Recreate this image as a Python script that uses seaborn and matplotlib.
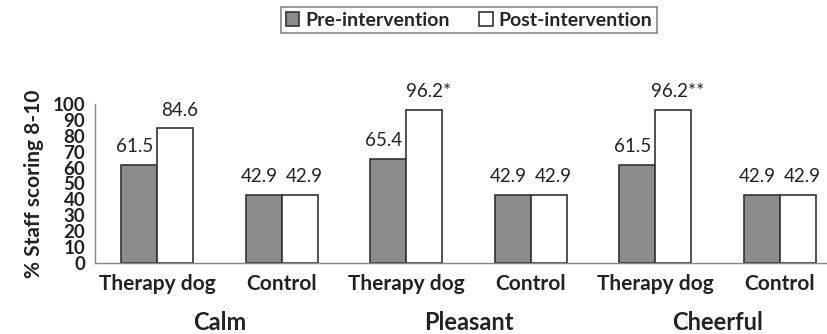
import numpy as np
import pandas as pd
import seaborn as sns
import matplotlib.pyplot as plt

# ----------------------------
# dati
# ----------------------------
moods = ["Calm", "Pleasant", "Cheerful"]
groups = ["Therapy dog", "Control"]
phases = ["Pre-intervention", "Post-intervention"]
pre_values = [61.5, 42.9, 65.4, 42.9, 61.5, 42.9]
post_values = [84.6, 42.9, 96.2, 42.9, 96.2, 42.9]
post_labels = ["84.6", "42.9", "96.2*", "42.9", "96.2**", "42.9"]

keys = [f"{m}|{g}" for m in moods for g in groups]
df = pd.DataFrame({
    "key": keys * 2,
    "phase": [phases[0]] * 6 + [phases[1]] * 6,
    "value": pre_values + post_values,
})

sns.set_theme(style="white")
plt.rcParams["font.family"] = ["Lato", "DejaVu Sans"]

fig = plt.figure(figsize=(8.28, 3.34), dpi=100)
ax = fig.add_axes([95 / 828, 71 / 334, 747 / 828, 159 / 334])

sns.barplot(
    data=df, x="key", y="value", hue="phase", order=keys, hue_order=phases,
    palette=["#8c8c8c", "#ffffff"], width=0.58, edgecolor="#333333",
    linewidth=1.2, ax=ax, legend=True,
)

# etichette valori sopra le barre (leggermente allargate come in Excel)
label_sets = [[f"{v}" for v in pre_values], post_labels]
for cont, labels, dx in zip(ax.containers, label_sets, [-3, 3]):
    for bar, lab in zip(cont, labels):
        ax.annotate(lab, xy=(bar.get_x() + bar.get_width() / 2, bar.get_height()),
                    xytext=(dx, 7), textcoords="offset points",
                    ha="center", va="bottom", fontsize=13.5, color="#222222")

ax.set_ylim(0, 100)
ax.set_xlim(-0.5, 5.5)
ax.set_yticks(np.arange(0, 101, 10))
ax.set_yticklabels([str(v) for v in range(0, 101, 10)], fontsize=13.5,
                   fontweight="bold", color="#222222")

# tick ai confini, etichette al centro
ax.set_xticks(np.arange(-0.5, 6, 1))
ax.set_xticklabels([""] * 7)
ax.set_xticks(np.arange(6), minor=True)
ax.set_xticklabels(groups * 3, minor=True, fontsize=15, fontweight="bold",
                   color="#222222")
ax.tick_params(axis="x", which="major", direction="out", length=6,
               color="#888888", width=1)
ax.tick_params(axis="x", which="minor", length=0, pad=8)
ax.tick_params(axis="y", direction="out", length=5, color="#888888",
               width=1, pad=2)

for i, m in enumerate(moods):
    ax.text(2 * i + 0.5, -0.375, m, transform=ax.get_xaxis_transform(),
            ha="center", va="center", fontsize=17, fontweight="bold",
            color="#222222")

ax.set_xlabel("")
ax.set_ylabel("% Staff scoring 8-10", fontsize=15, fontweight="bold",
              color="#222222", labelpad=6)

for s in ["top", "right"]:
    ax.spines[s].set_visible(False)
for s in ["left", "bottom"]:
    ax.spines[s].set_color("#888888")
    ax.spines[s].set_linewidth(1)

handles, labels = ax.get_legend_handles_labels()
ax.get_legend().remove()
leg = fig.legend(handles, labels, loc="center", bbox_to_anchor=(469 / 828, 1 - 20 / 334),
                 ncol=2, frameon=True, fancybox=False,
                 handlelength=0.7, handleheight=0.7, handletextpad=0.3,
                 columnspacing=1.5, borderpad=0.25, edgecolor="#666666",
                 prop={"weight": "bold", "size": 14})
leg.get_frame().set_linewidth(1.2)

fig.savefig("out.png", dpi=100)
